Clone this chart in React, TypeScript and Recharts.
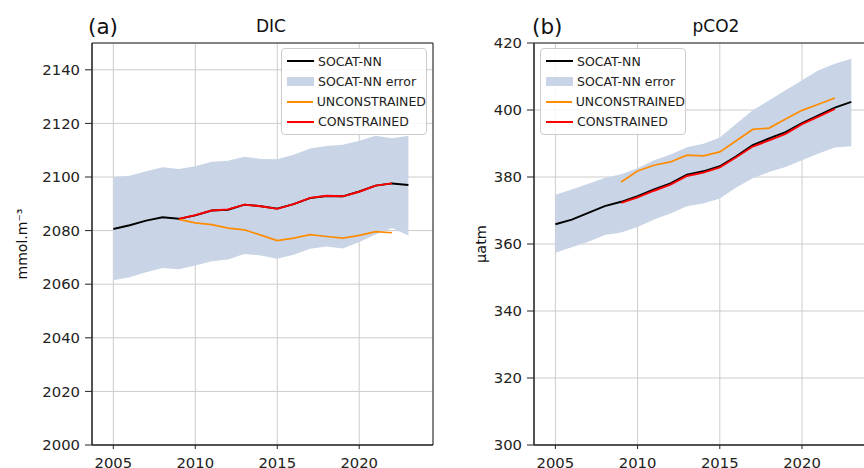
import React from 'react';
import { ComposedChart, Line, Area, XAxis, YAxis, CartesianGrid, ReferenceArea, Legend } from 'recharts';

const years = [2005, 2006, 2007, 2008, 2009, 2010, 2011, 2012, 2013, 2014, 2015, 2016, 2017, 2018, 2019, 2020, 2021, 2022, 2023];

// DIC (mmol.m-3)
const dicSocat = [2080.6, 2082.0, 2083.7, 2085.0, 2084.4, 2085.7, 2087.5, 2087.8, 2089.7, 2089.1, 2088.2, 2089.9, 2092.1, 2092.9, 2092.8, 2094.6, 2096.8, 2097.6, 2097.0];
const dicLow = [2061.5, 2062.6, 2064.5, 2066.0, 2065.6, 2067.0, 2068.6, 2069.2, 2071.3, 2070.7, 2069.5, 2071.0, 2073.2, 2074.1, 2073.3, 2075.7, 2078.5, 2081.0, 2078.2];
const dicHigh = [2100.0, 2100.5, 2102.1, 2103.6, 2103.0, 2104.0, 2105.7, 2106.1, 2107.6, 2106.7, 2106.6, 2108.3, 2110.6, 2111.6, 2112.0, 2113.5, 2115.4, 2114.5, 2115.4];
const dicUnc = [null, null, null, null, 2084.2, 2082.9, 2082.2, 2080.9, 2080.3, 2078.3, 2076.3, 2077.2, 2078.5, 2077.8, 2077.2, 2078.2, 2079.6, 2079.2, null];
const dicCon = [null, null, null, null, 2084.4, 2085.8, 2087.5, 2087.9, 2089.7, 2089.1, 2088.1, 2089.9, 2092.2, 2093.0, 2092.8, 2094.5, 2096.8, 2097.6, null];

// pCO2 (uatm)
const pcoSocat = [365.9, 367.3, 369.3, 371.3, 372.6, 374.3, 376.3, 378.1, 380.7, 381.7, 383.2, 386.2, 389.5, 391.5, 393.4, 396.1, 398.4, 400.7, 402.4];
const pcoLow = [357.4, 359.0, 360.7, 362.7, 363.4, 365.1, 367.3, 369.1, 371.3, 372.1, 373.6, 376.9, 379.6, 381.5, 383.0, 385.0, 387.0, 388.8, 389.2];
const pcoHigh = [374.7, 376.3, 378.0, 379.7, 380.8, 382.6, 385.0, 386.7, 388.9, 389.9, 391.8, 395.9, 399.9, 402.9, 405.9, 408.9, 411.9, 413.8, 415.3];
const pcoUnc = [null, null, null, null, 378.5, 381.8, 383.5, 384.5, 386.5, 386.3, 387.5, 390.8, 394.2, 394.6, 397.3, 399.9, 401.7, 403.6, null];
const pcoCon = [null, null, null, null, 372.3, 373.9, 375.9, 377.7, 380.3, 381.3, 382.9, 385.9, 389.1, 390.9, 392.9, 395.8, 398.0, 400.3, null];

const xTicks = [2005, 2010, 2015, 2020];
const dicTicks = [2000, 2020, 2040, 2060, 2080, 2100, 2120, 2140];
const pcoTicks = [300, 320, 340, 360, 380, 400, 420];

const legendItems = [
  { label: 'SOCAT-NN', kind: 'line', color: '#000000' },
  { label: 'SOCAT-NN error', kind: 'band', color: '#c9d5e7' },
  { label: 'UNCONSTRAINED', kind: 'line', color: '#ff8c00' },
  { label: 'CONSTRAINED', kind: 'line', color: '#ff0000' },
];

const FONT = '"DejaVu Sans", sans-serif';
const XMIN = 2003.7;
const XMAX = 2024.5;

const buildRows = (socat: number[], low: number[], high: number[], unc: (number | null)[], con: (number | null)[]) =>
  years.map((y, i) => ({ year: y, socat: socat[i], band: [low[i], high[i]], unc: unc[i], con: con[i] }));

const dicRows = buildRows(dicSocat, dicLow, dicHigh, dicUnc, dicCon);
const pcoRows = buildRows(pcoSocat, pcoLow, pcoHigh, pcoUnc, pcoCon);

const LegendBox = () => (
  <div
    style={{
      width: 144,
      height: 85,
      border: '1px solid #cccccc',
      borderRadius: 4,
      background: 'rgba(255,255,255,0.85)',
      fontFamily: FONT,
      fontSize: 12.5,
      color: '#222',
      boxSizing: 'content-box',
      position: 'relative',
    }}
  >
    {legendItems.map((it, i) => (
      <div key={it.label} style={{ position: 'absolute', left: 0, top: 3 + i * 20.3, height: 18, width: 144, display: 'flex', alignItems: 'center' }}>
        <div style={{ width: 27, marginLeft: 5, marginRight: 4, height: it.kind === 'band' ? 9 : 2, background: it.color }} />
        <span style={{ whiteSpace: 'nowrap' }}>{it.label}</span>
      </div>
    ))}
  </div>
);

const tickStyle = { fontSize: 14.8, fill: '#222', fontFamily: FONT };

type PanelProps = {
  rows: any[];
  yDomain: [number, number];
  yTicks: number[];
  width: number;
  rightMargin: number;
  yAxisWidth: number;
  legendLeft: number;
};

const Panel = ({ rows, yDomain, yTicks, width, rightMargin, yAxisWidth, legendLeft }: PanelProps) => (
  <ComposedChart width={width} height={468} data={rows} margin={{ top: 43, right: rightMargin, left: 0, bottom: 0 }}>
    <CartesianGrid stroke="#cccccc" strokeWidth={1} />
    <XAxis
      type="number"
      dataKey="year"
      domain={[XMIN, XMAX]}
      allowDataOverflow
      ticks={xTicks}
      height={23}
      tick={tickStyle}
      tickSize={4}
      tickMargin={8}
      tickLine={{ stroke: '#222' }}
      axisLine={{ stroke: '#222' }}
    />
    <YAxis
      type="number"
      domain={yDomain}
      allowDataOverflow
      ticks={yTicks}
      width={yAxisWidth}
      tick={tickStyle}
      tickSize={7}
      tickMargin={5}
      tickLine={{ stroke: '#222' }}
      axisLine={{ stroke: '#222' }}
    />
    <Area type="linear" dataKey="band" stroke="none" fill="#c9d5e7" fillOpacity={1} isAnimationActive={false} />
    <Line type="linear" dataKey="socat" stroke="#000000" strokeWidth={1.9} dot={false} isAnimationActive={false} />
    <Line type="linear" dataKey="unc" stroke="#ff8c00" strokeWidth={1.7} dot={false} isAnimationActive={false} />
    <Line type="linear" dataKey="con" stroke="#ff0000" strokeWidth={1.9} dot={false} isAnimationActive={false} />
    <ReferenceArea x1={XMIN} x2={XMAX} y1={yDomain[0]} y2={yDomain[1]} fill="none" stroke="#222" strokeWidth={1} ifOverflow="visible" />
    <Legend
      layout="vertical"
      align="center"
      verticalAlign="middle"
      content={() => <LegendBox />}
      wrapperStyle={{ position: 'absolute', left: legendLeft, top: 48, width: 146, height: 87 }}
    />
  </ComposedChart>
);

export default function App() {
  return (
    <div style={{ position: 'absolute', left: 0, top: 0, width: 864, height: 468, overflow: 'hidden', background: '#fff' }}>
      <div style={{ position: 'absolute', left: 0, top: 0 }}>
        <Panel rows={dicRows} yDomain={[2000, 2150]} yTicks={dicTicks} width={440} rightMargin={7} yAxisWidth={92} legendLeft={281} />
      </div>
      <div style={{ position: 'absolute', left: 440, top: 0 }}>
        <Panel rows={pcoRows} yDomain={[300, 420]} yTicks={pcoTicks} width={436} rightMargin={0} yAxisWidth={94} legendLeft={100} />
      </div>
      <svg width={864} height={468} style={{ position: 'absolute', left: 0, top: 0, pointerEvents: 'none' }} fontFamily={FONT} fill="#111">
        <text x={88} y={33.5} fontSize={21.5}>(a)</text>
        <text x={271} y={32.3} fontSize={17} textAnchor="middle">DIC</text>
        <text x={532} y={33.5} fontSize={21.5}>(b)</text>
        <text x={716} y={32.3} fontSize={17} textAnchor="middle">pCO2</text>
        <text x={0} y={0} fontSize={14} textAnchor="middle" transform="translate(27,244) rotate(-90)">mmol.m⁻³</text>
        <text x={0} y={0} fontSize={14.5} textAnchor="middle" transform="translate(486,244) rotate(-90)">µatm</text>
      </svg>
    </div>
  );
}
